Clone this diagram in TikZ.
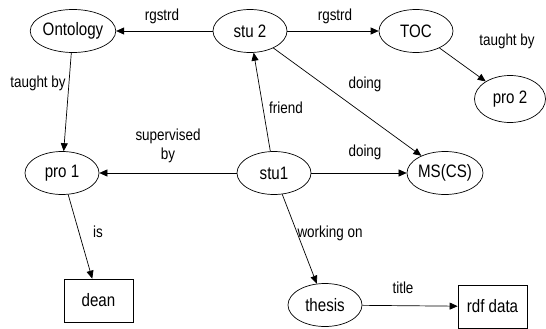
\documentclass[tikz,border=0pt]{standalone}
\usepackage{fontspec}
\setmainfont[FakeStretch=0.84]{Liberation Sans}
\usetikzlibrary{arrows.meta,shapes.geometric}
\begin{document}
\begin{tikzpicture}[x=1pt,y=-1pt,
  ell/.style={ellipse,draw,line width=0.7pt,minimum width=74pt,minimum height=43pt,inner sep=0pt,font=\fontsize{18}{20}\selectfont},
  box/.style={rectangle,draw,line width=0.7pt,minimum width=69pt,minimum height=43pt,inner sep=0pt,font=\fontsize{18}{20}\selectfont},
  lbl/.style={inner sep=0pt,font=\fontsize{16}{19}\selectfont,align=center},
  arr/.style={line width=0.7pt,-{Triangle[length=8pt,width=7pt]}}]
\useasboundingbox (0,0) rectangle (546,329);
\node[ell] (onto) at (73,31) {Ontology};
\node[ell] (stu2) at (250,31) {stu 2};
\node[ell] (toc) at (416,31) {TOC};
\node[ell,minimum width=71pt,minimum height=47pt] (pro2) at (510,99) {pro 2};
\node[ell] (pro1) at (62,173) {pro 1};
\node[ell] (stu1) at (274,173) {stu1};
\node[ell] (ms) at (445,173) {MS(CS)};
\node[ell] (thesis) at (325,305) {thesis};
\node[box] (dean) at (98.5,300.5) {dean};
\node[box] (rdf) at (492.5,306.5) {rdf data};

\draw[arr] (stu2) -- (onto);
\draw[arr] (stu2) -- (toc);
\draw[arr] (toc) -- (pro2);
\draw[arr] (onto) -- (pro1);
\draw[arr] (stu1) -- (stu2);
\draw[arr] (stu2) -- (ms);
\draw[arr] (stu1) -- (pro1);
\draw[arr] (stu1) -- (ms);
\draw[arr] (pro1) -- (dean);
\draw[arr] (stu1) -- (thesis);
\draw[arr] (thesis) -- (rdf);

\node[lbl] (l1) at (162,16) {rgstrd};
\node[lbl] (l2) at (335,16) {rgstrd};
\node[lbl] (l3) at (38,83) {taught by};
\node[lbl] (l4) at (507,41) {taught by};
\node[lbl] (l5) at (365,84) {doing};
\node[lbl] (l6) at (286,108) {friend};
\node[lbl] (l7) at (168,146) {supervised\\by};
\node[lbl] (l8) at (365,152) {doing};
\node[lbl] (l9) at (98,232) {is};
\node[lbl] (l10) at (330,233) {working on};
\node[lbl] (l11) at (403,288) {title};
\end{tikzpicture}
\end{document}
